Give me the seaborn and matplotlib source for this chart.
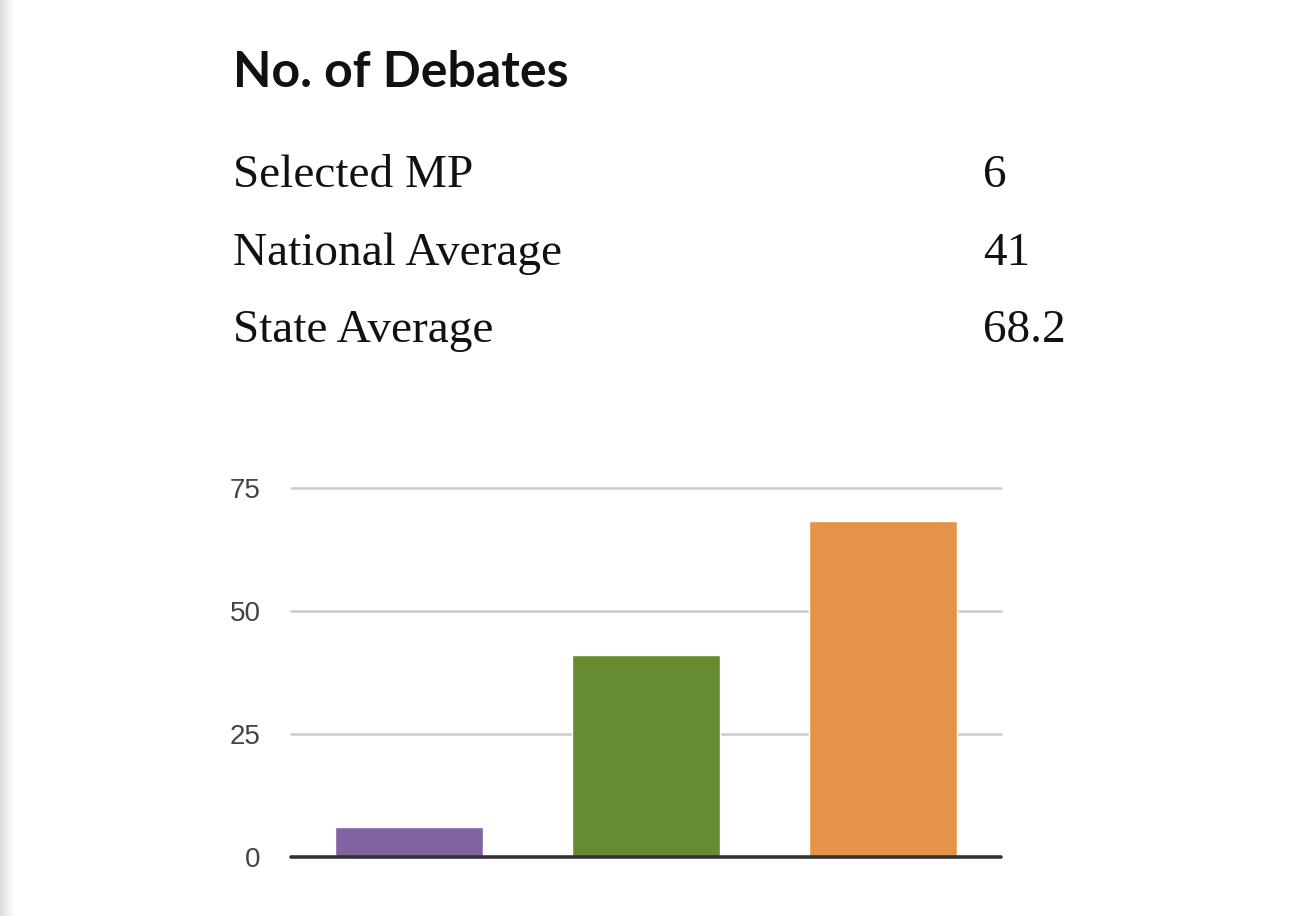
import numpy as np
import matplotlib
matplotlib.use("Agg")
import matplotlib.pyplot as plt
import pandas as pd
import seaborn as sns

# Data
categories = ["Selected MP", "National Average", "State Average"]
debates = [6, 41, 68.2]
value_labels = ["6", "41", "68.2"]
bar_colors = ["#8064A2", "#658C31", "#E5924B"]
y_ticks = [0, 25, 50, 75]

W, H = 1290, 916
sns.set_theme(style="white")
plt.rcParams["font.family"] = ["Liberation Sans", "DejaVu Sans"]

fig = plt.figure(figsize=(W / 100, H / 100), dpi=100)

def px(x, y):
    return x / W, 1 - y / H

# left edge shadow (page scrollbar look)
shade = fig.add_axes([0, 0, 14 / W, 1])
grad = np.linspace(0.86, 1.0, 50).reshape(1, -1)
shade.imshow(grad, aspect="auto", cmap="gray", vmin=0, vmax=1, extent=[0, 1, 0, 1])
shade.axis("off")

# heading + table
fig.text(*px(233, 87), "No. of Debates", fontsize=36, fontweight="bold",
         family=["Lato", "DejaVu Sans"], color="#111111", va="baseline")
row_base = [187, 265, 342]
for cat, lab, yb in zip(categories, value_labels, row_base):
    fig.text(*px(233, yb), cat, fontsize=34, family=["Liberation Serif"],
             color="#111111", va="baseline")
    fig.text(*px(983, yb), lab, fontsize=34, family=["Liberation Serif"],
             color="#111111", va="baseline")

# bar chart
ax = fig.add_axes([291 / W, 1 - 857 / H, 710 / W, 369 / H])
df = pd.DataFrame({"cat": categories, "val": debates})
sns.barplot(data=df, x="cat", y="val", hue="cat", palette=bar_colors,
            legend=False, width=0.625, saturation=1, ax=ax, zorder=3)
ax.set_xlim(-0.5, 2.5)
ax.set_ylim(0, 75)
ax.set_yticks(y_ticks)
ax.set_yticklabels([str(t) for t in y_ticks], fontsize=20, color="#444444")
ax.tick_params(axis="y", length=0, pad=22)
ax.set_xticks([])
ax.set_xlabel("")
ax.set_ylabel("")
for t in y_ticks[1:]:
    ax.axhline(t, color="#cccccc", lw=1.8, zorder=1, clip_on=False)
ax.axhline(0, color="#333333", lw=2.6, zorder=4, clip_on=False)
for s in ax.spines.values():
    s.set_visible(False)

fig.savefig("out.png", dpi=100)
